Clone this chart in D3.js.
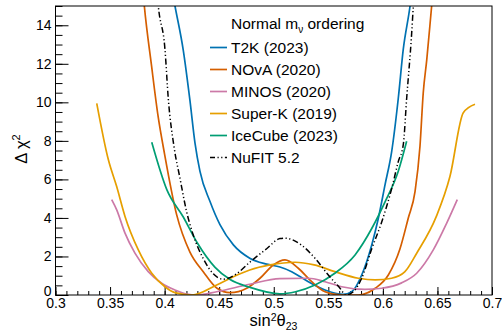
<!DOCTYPE html>
<meta charset="utf-8">
<script src="https://d3js.org/d3.v7.min.js"></script>
<style>
  body { margin: 0; background: #fff; }
  text { font-family: "Liberation Sans", Arial, sans-serif; fill: #000; }
</style>
<div id="my_dataviz"></div>
<script>

// delta chi^2 profiles vs sin^2(theta23), [sin2, dchi2]
var t2k = [[0.400,18.0],[0.4095,15],[0.4171,12.7],[0.4232,10.1],[0.4278,7.9],[0.4324,6.42],[0.4416,4.85],
  [0.4507,3.65],[0.463,2.6],[0.478,1.91],[0.4935,1.6],[0.5057,1.45],[0.5164,1.21],[0.5317,0.69],[0.547,0.26],
  [0.5635,0.03],[0.5714,0.17],[0.5806,1.04],[0.5898,2.6],[0.5958,3.97],[0.602,5.73],[0.6081,7.46],[0.6141,10.2],
  [0.6187,12.76],[0.6249,15],[0.630,17.5]];
var nova = [[0.377,18],[0.3814,15],[0.388,11.9],[0.394,9.28],[0.400,7.3],[0.411,4.17],[0.4232,2.23],[0.4354,1.21],
  [0.448,0.35],[0.460,0.12],[0.4752,0.35],[0.4874,0.87],[0.4996,1.56],[0.5103,1.82],[0.5225,1.39],[0.5348,0.69],
  [0.547,0.17],[0.5623,0.0],[0.5775,0.0],[0.593,0.35],[0.605,1.04],[0.6157,2.4],[0.6233,4.0],[0.6295,5.38],
  [0.634,7.72],[0.637,10.5],[0.6402,12.2],[0.6447,15],[0.648,17]];
var minos = [[0.3515,4.95],[0.356,4.43],[0.3637,3.21],[0.3728,2.17],[0.385,1.21],[0.3973,0.61],[0.4095,0.26],
  [0.420,0.05],[0.430,0.0],[0.4477,0.17],[0.478,0.56],[0.5057,0.85],[0.5317,0.87],[0.547,0.69],[0.5623,0.43],
  [0.5836,0.29],[0.599,0.35],[0.6172,0.63],[0.631,1.13],[0.6462,2.34],[0.6585,3.73],[0.6682,4.95]];
var superk = [[0.3378,9.95],[0.3484,7.03],[0.356,5.64],[0.3637,4.08],[0.3759,2.34],[0.3882,1.13],[0.4003,0.43],
  [0.4095,0.12],[0.425,0.0],[0.4477,0.52],[0.463,0.95],[0.478,1.3],[0.4966,1.56],[0.5195,1.7],[0.537,1.56],
  [0.556,1.21],[0.5775,0.87],[0.593,0.78],[0.608,0.87],[0.620,1.2],[0.631,2.17],[0.649,4.08],[0.6615,6.16],
  [0.6737,9.46],[0.6844,9.9]];
var icecube = [[0.3882,7.93],[0.402,5.47],[0.4171,4.05],[0.430,2.7],[0.446,1.45],[0.460,0.8],[0.478,0.4],
  [0.5057,0.06],[0.520,0.17],[0.5378,0.52],[0.556,1.13],[0.5745,2.08],[0.5898,3.45],[0.602,4.83],[0.6141,6.42],
  [0.6218,7.98]];
var nufit = [[0.390,18],[0.3942,15],[0.4003,12.76],[0.4034,10.16],[0.4086,7.7],[0.4141,6.05],[0.4202,4.31],
  [0.4263,3.1],[0.4354,1.89],[0.4446,1.1],[0.4538,0.82],[0.466,1.1],[0.478,1.7],[0.4935,2.4],[0.5057,2.93],
  [0.5103,2.95],[0.5256,2.58],[0.5378,1.91],[0.550,1.04],[0.5607,0.35],[0.566,0.0],[0.5729,0.17],[0.5806,0.87],
  [0.5898,2.4],[0.599,3.8],[0.6081,5.53],[0.6141,6.92],[0.6187,7.8],[0.6218,10.2],[0.6264,13.6],[0.6279,15],[0.632,18]];

var seriesNames = ["T2K (2023)", "NOvA (2020)", "MINOS (2020)", "Super-K (2019)", "IceCube (2023)", "NuFIT 5.2"];
var seriesData = [t2k, nova, minos, superk, icecube, nufit];
var seriesColors = ["#0072B2", "#D55E00", "#CC79A7", "#E69F00", "#009E73", "#000000"];

var xTicks = [0.3, 0.35, 0.4, 0.45, 0.5, 0.55, 0.6, 0.65, 0.7];
var yTicks = [0, 2, 4, 6, 8, 10, 12, 14];

// frame of the plot
var margin = {top: 6, right: 10, bottom: 37, left: 55.5},
    width = 502 - margin.left - margin.right,
    height = 332 - margin.top - margin.bottom;

var svg = d3.select("#my_dataviz")
  .append("svg")
    .attr("width", 502)
    .attr("height", 332)
  .append("g")
    .attr("transform", "translate(" + margin.left + "," + margin.top + ")");

var x = d3.scaleLinear().domain([0.3, 0.7]).range([0, width]);
var y = d3.scaleLinear().domain([0, 15]).range([height, 0]);

svg.append("clipPath").attr("id", "clip")
  .append("rect").attr("width", width).attr("height", height);

// minor ticks (inward)
svg.append("g")
  .attr("transform", "translate(0," + height + ")")
  .call(d3.axisBottom(x).tickValues(d3.range(30, 71).map(function(d) { return d / 100; }))
    .tickSize(-4).tickFormat(""))
  .call(function(g) { g.select(".domain").remove(); });
svg.append("g")
  .call(d3.axisLeft(y).tickValues(d3.range(0, 31).map(function(d) { return d / 2; }))
    .tickSize(-7).tickFormat(""))
  .call(function(g) { g.select(".domain").remove(); });

// major ticks + labels
svg.append("g")
  .attr("transform", "translate(0," + height + ")")
  .call(d3.axisBottom(x).tickValues(xTicks).tickSize(-8).tickPadding(3).tickFormat(d3.format("")))
  .call(function(g) { g.select(".domain").remove(); })
  .selectAll("text").style("font-size", "14px").style("font-family", "Liberation Sans, Arial, sans-serif");
svg.append("g")
  .call(d3.axisLeft(y).tickValues(yTicks).tickSize(-13).tickPadding(4))
  .call(function(g) { g.select(".domain").remove(); })
  .selectAll("text").attr("dy", function(d) { return d == 0 ? "0.05em" : "0.3em"; })
    .style("font-size", "14px").style("font-family", "Liberation Sans, Arial, sans-serif");

svg.selectAll(".tick line").attr("stroke", "#000");

// curves
var line = d3.line()
  .x(function(d) { return x(d[0]); })
  .y(function(d) { return y(d[1]); })
  .curve(d3.curveMonotoneX);

svg.append("g").attr("clip-path", "url(#clip)")
  .selectAll("path")
  .data(seriesData)
  .enter().append("path")
    .attr("fill", "none")
    .attr("stroke", function(d, i) { return seriesColors[i]; })
    .attr("stroke-width", function(d, i) { return i == 5 ? 1.5 : 1.7; })
    .attr("stroke-dasharray", function(d, i) { return i == 5 ? "6,2.5,1.2,2.5,1.2,2.5" : null; })
    .attr("d", line);

// frame
svg.append("rect")
  .attr("width", width).attr("height", height)
  .attr("fill", "none").attr("stroke", "#000").attr("stroke-width", 1);

// axis titles
var xt = svg.append("text")
  .attr("x", 218).attr("y", 320)
  .attr("text-anchor", "middle")
  .style("font-size", "16.5px");
xt.append("tspan").text("sin");
xt.append("tspan").attr("dy", -5).style("font-size", "10.5px").text("2");
xt.append("tspan").attr("dy", 5).text("θ");
xt.append("tspan").attr("dy", 3.5).style("font-size", "10.5px").text("23");

var yt = svg.append("text")
  .attr("transform", "translate(-29," + 143 + ") rotate(-90)")
  .attr("text-anchor", "middle")
  .style("font-size", "16.5px");
yt.append("tspan").text("Δ χ");
yt.append("tspan").attr("dy", -7).style("font-size", "11px").text("2");

// legend
var lg = svg.append("g").attr("transform", "translate(" + (210 - margin.left) + "," + 0 + ")");
var head = lg.append("text").attr("x", 21).attr("y", 22.5).style("font-size", "15.5px");
head.append("tspan").text("Normal m");
head.append("tspan").attr("dy", 4).style("font-size", "10px").text("ν");
head.append("tspan").attr("dy", -4).text(" ordering");

var rows = lg.selectAll(".row")
  .data(seriesNames)
  .enter().append("g")
    .attr("transform", function(d, i) { return "translate(0," + (41.5 + i * 22) + ")"; });
rows.append("line")
  .attr("x1", 0).attr("x2", 17)
  .attr("stroke", function(d, i) { return seriesColors[i]; })
  .attr("stroke-width", 1.7)
  .attr("stroke-dasharray", function(d, i) { return i == 5 ? "5,2.5,1.2,2.5,1.2,2.5" : null; });
rows.append("text")
  .attr("x", 21).attr("y", 5.5)
  .style("font-size", "15.5px")
  .text(function(d) { return d; });

</script>
